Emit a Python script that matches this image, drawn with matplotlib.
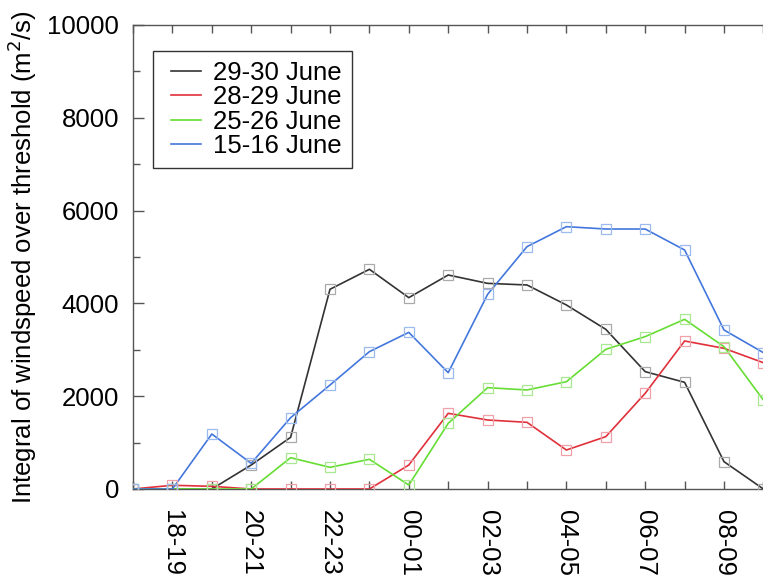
import matplotlib
matplotlib.use("Agg")
import matplotlib.pyplot as plt
from matplotlib.ticker import MultipleLocator, FixedLocator
from matplotlib.legend_handler import HandlerLine2D
from matplotlib.lines import Line2D

plt.rcParams['font.family'] = ['Liberation Sans', 'DejaVu Sans']

# Hour intervals (one point per hour)
hours = ["17-18", "18-19", "19-20", "20-21", "21-22", "22-23", "23-00", "00-01",
         "01-02", "02-03", "03-04", "04-05", "05-06", "06-07", "07-08", "08-09",
         "09-10"]

june_29_30 = [0, 0, 0, 517, 1114, 4304, 4735, 4124, 4612, 4432, 4397, 3966,
              3441, 2529, 2299, 589, 0]
june_28_29 = [0, 80, 58, 0, 0, 0, 0, 517, 1631, 1487, 1437, 840,
              1128, 2062, 3190, 3032, 2722]
june_25_26 = [0, 0, 0, 0, 675, 467, 640, 86, 1415, 2184, 2134, 2313,
              3010, 3284, 3657, 3067, 1918]
june_15_16 = [0, 0, 1185, 553, 1537, 2241, 2960, 3376, 2507, 4195, 5223, 5654,
              5603, 5603, 5151, 3427, 2938]

series = [
    ("29-30 June", june_29_30, "#333333", "#aaaaaa"),
    ("28-29 June", june_28_29, "#e0303a", "#f0a0a8"),
    ("25-26 June", june_25_26, "#66dd33", "#a8e890"),
    ("15-16 June", june_15_16, "#4477dd", "#9bbbee"),
]

fig = plt.figure(figsize=(7.63, 5.75), dpi=100)
W, H = 763, 575
x0_px, y0_px, top_px = 133, 489, 25
unit_px = 39.4
n_units = 18
ax = fig.add_axes([x0_px / W, (H - y0_px) / H, n_units * unit_px / W, (y0_px - top_px) / H])

x = list(range(len(hours)))
handles = []
for label, vals, lc, mc in series:
    h, = ax.plot(x, vals, color=lc, lw=1.2, label=label, zorder=3)
    ax.plot(x, vals, ls='none', marker='s', ms=7, mfc='none', mec=mc, mew=0.9, zorder=4)
    handles.append(h)

ax.set_xlim(0, n_units)
ax.set_ylim(0, 10000)

ax.yaxis.set_major_locator(MultipleLocator(2000))
ax.yaxis.set_minor_locator(MultipleLocator(1000))
ax.xaxis.set_major_locator(FixedLocator(x))
ax.set_xticklabels([h if i % 2 == 1 else "" for i, h in enumerate(hours)], rotation=-90,
                   va='top', ha='center')

ax.tick_params(axis='both', which='both', direction='in', top=True, right=True,
               color='#555555', width=1.0)
ax.tick_params(axis='y', which='major', length=8, labelsize=18.5, pad=10)
ax.tick_params(axis='y', which='minor', length=5)
ax.tick_params(axis='x', which='major', length=6, labelsize=18.5, pad=15)

for s in ax.spines.values():
    s.set_color('#555555')
    s.set_linewidth(1.0)

ax.set_ylabel("Integral of windspeed over threshold (m$^2$/s)", fontsize=18.5, labelpad=6)

leg = ax.legend(handles=handles, loc='upper left',
                bbox_to_anchor=((153 - x0_px) / (n_units * unit_px), (489 - 51) / 464),
                fontsize=18.5, frameon=True, fancybox=False, framealpha=1, edgecolor='#333333',
                handlelength=1.5, handletextpad=0.47, borderpad=0.38, labelspacing=0.02,
                borderaxespad=0, handler_map={Line2D: HandlerLine2D(xpad=0.32)})
leg.get_frame().set_linewidth(1.0)

fig.savefig("out.png", dpi=100)
